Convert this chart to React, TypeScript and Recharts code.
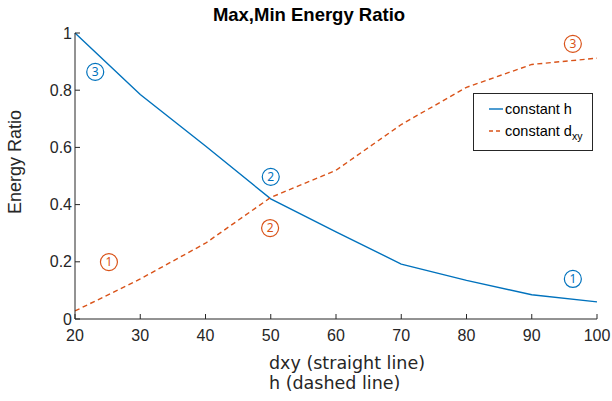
import { LineChart, Line, XAxis, YAxis, ReferenceDot } from "recharts"

const xValues = [20, 30, 40, 50, 60, 70, 80, 90, 100]
const constantH = [1, 0.785, 0.605, 0.42, 0.305, 0.192, 0.135, 0.085, 0.06]
const constantDxy = [0.028, 0.14, 0.265, 0.425, 0.52, 0.68, 0.81, 0.89, 0.912]

const xTicks = [20, 30, 40, 50, 60, 70, 80, 90, 100]
const yTicks = [0, 0.2, 0.4, 0.6, 0.8, 1]

// circled markers: [x, y, label]
const blueMarks: [number, number, string][] = [
    [23.1, 0.864, "3"],
    [50, 0.497, "2"],
    [96.3, 0.14, "1"],
]
const orangeMarks: [number, number, string][] = [
    [25.2, 0.199, "1"],
    [49.9, 0.318, "2"],
    [96.3, 0.962, "3"],
]

const data = xValues.map((x, i) => ({ x, h: constantH[i], dxy: constantDxy[i] }))

const BLUE = "#0072BD"
const ORANGE = "#D95319"
const AXIS = "#262626"
const FONT = "'Liberation Sans', Arial, sans-serif"

const tickStyle = { fill: AXIS, fontSize: 16, fontFamily: FONT }

const App = () => {
    return (
        <div style={{ position: "absolute", left: 0, top: 0, width: 612, height: 401, background: "#fff" }}>
            <LineChart
                width={612}
                height={401}
                data={data}
                margin={{ top: 33, right: 15, bottom: 0, left: 0 }}
            >
                <XAxis
                    dataKey="x"
                    type="number"
                    domain={[20, 100]}
                    ticks={xTicks}
                    height={82}
                    stroke={AXIS}
                    tickSize={-5}
                    tickMargin={16}
                    tick={tickStyle}
                />
                <XAxis
                    xAxisId="top"
                    orientation="top"
                    type="number"
                    domain={[20, 100]}
                    ticks={xTicks}
                    height={0}
                    stroke={AXIS}
                    tickSize={-5}
                    tick={false}
                />
                <YAxis
                    type="number"
                    domain={[0, 1]}
                    ticks={yTicks}
                    width={75}
                    stroke={AXIS}
                    tickSize={-5}
                    tickMargin={8}
                    tick={tickStyle}
                />
                <YAxis
                    yAxisId="right"
                    orientation="right"
                    type="number"
                    domain={[0, 1]}
                    ticks={yTicks}
                    width={0}
                    stroke={AXIS}
                    tickSize={-5}
                    tick={false}
                />
                <Line
                    dataKey="h"
                    stroke={BLUE}
                    strokeWidth={1.4}
                    dot={false}
                    isAnimationActive={false}
                />
                <Line
                    dataKey="dxy"
                    stroke={ORANGE}
                    strokeWidth={1.4}
                    strokeDasharray="5 3.5"
                    dot={false}
                    isAnimationActive={false}
                />
                {blueMarks.map(([x, y, t]) => (
                    <ReferenceDot
                        key={`b-${t}`}
                        x={x}
                        y={y}
                        r={8.5}
                        fill="none"
                        stroke={BLUE}
                        strokeWidth={1.2}
                        label={{ value: t, position: "center", fill: BLUE, fontSize: 12, fontFamily: "'Noto Sans', sans-serif" }}
                    />
                ))}
                {orangeMarks.map(([x, y, t]) => (
                    <ReferenceDot
                        key={`o-${t}`}
                        x={x}
                        y={y}
                        r={8.5}
                        fill="none"
                        stroke={ORANGE}
                        strokeWidth={1.2}
                        label={{ value: t, position: "center", fill: ORANGE, fontSize: 12, fontFamily: "'Noto Sans', sans-serif" }}
                    />
                ))}
            </LineChart>
            <svg
                width={612}
                height={401}
                style={{ position: "absolute", left: 0, top: 0, pointerEvents: "none" }}
            >
                <text x={309} y={21} textAnchor="middle" fontFamily={FONT} fontWeight="bold" fontSize={18.5} fill="#000">
                    Max,Min Energy Ratio
                </text>
                <text
                    transform="translate(21,162) rotate(-90)"
                    textAnchor="middle"
                    fontFamily={FONT}
                    fontSize={18}
                    fill={AXIS}
                >
                    Energy Ratio
                </text>
                <text x={269} y={369} fontFamily="'DejaVu Sans', sans-serif" fontSize={17.5} fill={AXIS}>
                    dxy (straight line)
                </text>
                <text x={269} y={389} fontFamily="'DejaVu Sans', sans-serif" fontSize={17.5} fill={AXIS}>
                    h (dashed line)
                </text>
                <rect x={473.5} y={93.5} width={119} height={57} fill="#fff" stroke={AXIS} strokeWidth={1} />
                <line x1={489} x2={503} y1={109} y2={109} stroke={BLUE} strokeWidth={1.4} />
                <line x1={489} x2={503} y1={131} y2={131} stroke={ORANGE} strokeWidth={1.4} strokeDasharray="4 3" />
                <text x={505} y={114} fontFamily={FONT} fontSize={14.5} fill="#000">
                    constant h
                </text>
                <text x={505} y={136} fontFamily={FONT} fontSize={14.5} fill="#000">
                    constant d<tspan dy={4} fontSize={10.5}>xy</tspan>
                </text>
            </svg>
        </div>
    )
}

export default App
